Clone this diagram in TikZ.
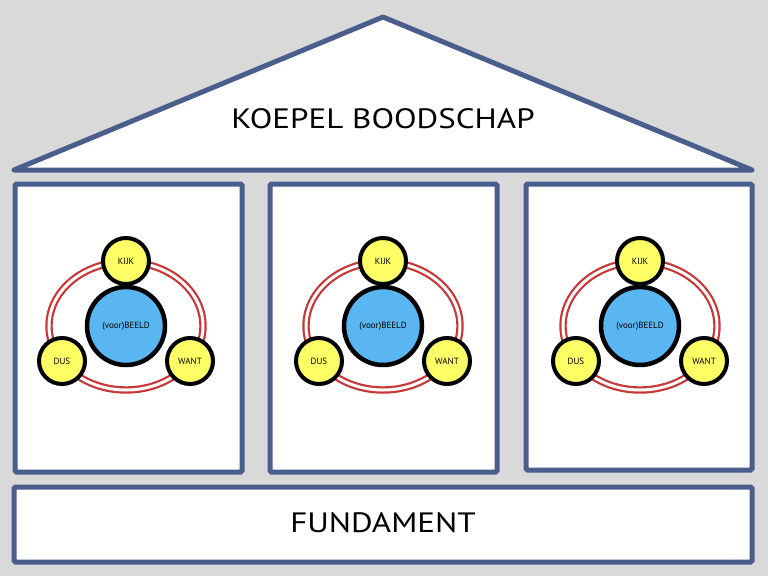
\documentclass[tikz,border=0pt]{standalone}
\usepackage{fontspec}
\setmainfont{PT Sans}
\newfontfamily\widefont[FakeStretch=1.18]{PT Sans}
\definecolor{bg}{RGB}{217,217,217}
\definecolor{frame}{RGB}{74,94,142}
\definecolor{ringred}{RGB}{200,55,55}
\definecolor{blueball}{RGB}{90,182,240}
\definecolor{yellowball}{RGB}{255,255,102}
\begin{document}
\begin{tikzpicture}[x=1pt,y=-1pt,
  framebox/.style={draw=frame,line width=5pt,fill=white,rounded corners=1.5pt},
  ring/.style={draw=ringred,line width=2.2pt,double=white,double distance=3pt},
  bigball/.style={circle,draw=black,line width=4.5pt,fill=blueball,minimum size=78pt,inner sep=0pt,font=\fontsize{9}{10}\selectfont},
  smallball/.style={circle,draw=black,line width=4pt,fill=yellowball,minimum size=46pt,inner sep=0pt,font=\fontsize{9}{10}\selectfont},
  bigtext/.style={font=\widefont\fontsize{28}{30}\selectfont}]
\fill[bg] (0,0) rectangle (768,576);
\useasboundingbox (0,0) rectangle (768,576);
% roof
\draw[framebox,line join=round,rounded corners=0pt] (383,17) -- (752,170) -- (14,170) -- cycle;
\node[bigtext] (roof) at (383,119) {KOEPEL BOODSCHAP};
% panels
\draw[framebox] (15,184) rectangle (242,472);
\draw[framebox] (270,184) rectangle (497,472);
\draw[framebox] (526,184) rectangle (752,470);
% foundation
\draw[framebox] (14,487) rectangle (752,562);
\node[bigtext] (fund) at (383,523) {FUNDAMENT};
% clusters
\foreach \cx/\i in {126/a,383/b,640/c}{
  \draw[ring] (\cx,326) ellipse [x radius=77pt, y radius=64pt];
  \node[bigball] (beeld\i) at (\cx,326) {(voor)BEELD};
  \node[smallball] (kijk\i) at (\cx,261) {KIJK};
  \node[smallball] (dus\i) at (\cx-64,361) {DUS};
  \node[smallball] (want\i) at (\cx+64,361) {WANT};
}
\end{tikzpicture}
\end{document}
